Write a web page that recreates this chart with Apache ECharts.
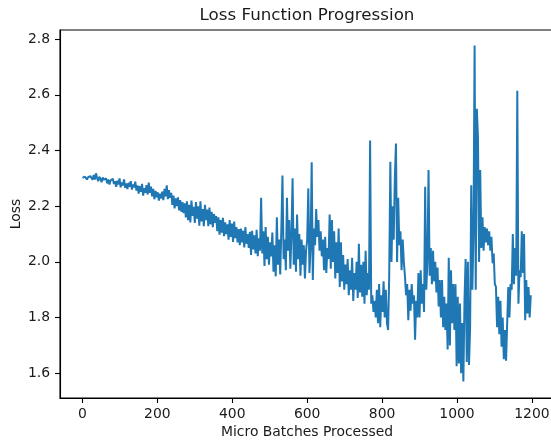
<!DOCTYPE html>
<html><head><meta charset="utf-8">
<script src="https://cdn.jsdelivr.net/npm/echarts@6/dist/echarts.min.js"></script>
<style>html,body{margin:0;padding:0;background:#fff}#c{width:551px;height:441px}</style>
</head><body><div id="c"></div>
<script>
const titleText = "Loss Function Progression";
const xName = "Micro Batches Processed";
const yName = "Loss";
const batchStep = 3;
const xTicks = [0, 200, 400, 600, 800, 1000, 1200];
const yTicks = [1.6, 1.8, 2.0, 2.2, 2.4, 2.6, 2.8];
// loss values, one per 3 micro batches (rows of 30 batches)
const loss0 = [
2.302,2.298,2.306,2.300,2.296,2.304,2.299,2.308,2.301,2.295,
2.312,2.296,2.318,2.302,2.290,2.306,2.298,2.286,2.303,2.295,
2.288,2.300,2.282,2.296,2.278,2.292,2.285,2.299,2.280,2.290,
2.270,2.292,2.278,2.300,2.268,2.285,2.275,2.296,2.266,2.282,
2.262,2.284,2.270,2.290,2.260,2.278,2.268,2.288,2.256,2.275,
2.245,2.272,2.252,2.280,2.238,2.265,2.248,2.276,2.242,2.285,
2.248,2.270,2.235,2.262,2.225,2.255,2.232,2.250,2.220,2.245,
2.228,2.252,2.222,2.262,2.235,2.275,2.225,2.258,2.230,2.248,
2.205,2.238,2.192,2.228,2.200,2.232,2.185,2.222,2.180,2.215,
2.175,2.210,2.160,2.218,2.150,2.205,2.142,2.220,2.165,2.198];
const loss1 = [
2.140,2.215,2.155,2.200,2.130,2.218,2.145,2.190,2.128,2.205,
2.150,2.188,2.128,2.195,2.135,2.180,2.125,2.172,2.140,2.165,
2.110,2.160,2.098,2.150,2.105,2.158,2.092,2.142,2.100,2.135,
2.080,2.150,2.090,2.138,2.072,2.145,2.085,2.125,2.070,2.118,
2.060,2.120,2.070,2.112,2.052,2.125,2.065,2.100,2.050,2.108,
2.025,2.112,2.045,2.095,2.030,2.115,2.020,2.085,2.040,2.230,
2.030,2.110,1.985,2.125,2.010,2.090,1.990,2.070,2.020,2.105,
1.965,2.060,1.948,2.160,1.990,2.080,1.955,2.120,2.310,2.010,
2.080,1.970,2.230,2.040,2.150,1.975,2.100,2.300,1.990,2.120,
1.965,2.170,2.010,2.100,1.950,2.080,1.990,2.060,1.940,2.040];
const loss2 = [
2.080,2.264,1.960,2.050,2.358,1.935,2.120,2.060,2.190,2.090,
2.150,2.040,2.110,2.020,2.080,1.970,2.090,1.960,2.050,2.010,
2.170,1.975,2.150,2.000,2.110,1.940,2.070,1.960,2.120,1.910,
2.070,1.930,2.025,1.900,1.990,1.920,2.010,1.880,1.970,1.900,
2.015,1.860,1.960,1.900,2.000,1.870,2.065,1.890,1.990,1.875,
2.000,1.850,2.040,1.880,1.960,1.900,2.436,1.850,1.880,1.820,
1.860,1.800,1.900,1.780,1.920,1.765,1.880,1.820,1.930,1.800,
1.900,1.780,1.755,1.950,2.360,2.000,2.200,2.080,2.300,2.425,
2.000,2.230,2.060,2.110,1.970,2.080,2.000,1.950,1.880,1.920,
1.790,1.900,1.825,1.920,1.850,1.880,1.720,1.860,1.800,1.960];
const loss3 = [
1.800,1.970,1.850,1.920,1.820,2.270,1.900,2.000,2.330,1.950,
2.050,1.920,2.040,1.930,2.000,1.890,1.980,1.840,1.935,1.800,
1.935,1.765,1.875,1.755,1.850,1.685,2.015,1.700,1.970,1.780,
1.920,1.755,1.920,1.625,1.875,1.635,1.850,1.600,1.780,1.570,
1.860,2.010,1.640,2.000,1.630,1.760,2.275,1.900,2.100,2.777,
1.900,2.550,2.447,2.000,2.330,2.050,2.160,2.040,2.125,2.070,
2.120,2.060,2.110,2.040,2.090,1.995,2.030,1.920,1.910,1.765,
1.875,1.740,1.860,1.695,1.800,1.650,1.755,1.645,1.780,1.910,
1.800,1.920,1.900,2.100,1.920,2.050,1.950,2.615,1.850,1.970,
1.945,2.110,1.960,2.100,1.790,1.935,1.815,1.910,1.800,1.880];
const loss = [].concat(loss0, loss1, loss2, loss3);
const seriesData = loss.map((v, i) => [i * batchStep, v]);

const font = "DejaVu Sans";
const txt = "#1a1a1a";
const chart = echarts.init(document.getElementById('c'), null, {renderer: 'canvas'});
chart.setOption({
  animation: false,
  backgroundColor: '#fff',
  graphic: [{type: 'text', x: 307, y: 16, style: {text: titleText, font: '16.7px "DejaVu Sans"', fill: txt, align: 'center', verticalAlign: 'middle'}}],
  grid: {left: 60, top: 30, width: 494, height: 368, show: true, borderColor: '#000', borderWidth: 1.1, containLabel: false, outerBoundsMode: 'none'},
  xAxis: {
    type: 'value', min: -60, max: 1259,
    name: xName, nameLocation: 'middle', nameGap: 27, nameMoveOverlap: false,
    nameTextStyle: {fontFamily: font, fontSize: 13.9, color: txt},
    axisLine: {show: true, onZero: false, lineStyle: {color: '#000', width: 1.1}},
    axisTick: {show: true, inside: false, length: 5, lineStyle: {color: '#000', width: 1.1}, customValues: xTicks},
    axisLabel: {show: true, margin: 9, fontFamily: font, fontSize: 13.9, color: txt, customValues: xTicks, formatter: v => String(v)},
    splitLine: {show: false}
  },
  yAxis: {
    type: 'value', min: 1.511, max: 2.833,
    name: yName, nameLocation: 'middle', nameGap: 37, nameRotate: 90, nameMoveOverlap: false,
    nameTextStyle: {fontFamily: font, fontSize: 13.9, color: txt},
    axisLine: {show: true, onZero: false, lineStyle: {color: '#000', width: 1.1}},
    axisTick: {show: true, inside: false, length: 5, lineStyle: {color: '#000', width: 1.1}, customValues: yTicks},
    axisLabel: {show: true, margin: 10, fontFamily: font, fontSize: 13.9, color: txt, customValues: yTicks, formatter: v => v.toFixed(1)},
    splitLine: {show: false}
  },
  series: [{type: 'line', data: seriesData, showSymbol: false, symbol: 'none', lineStyle: {color: '#1f77b4', width: 2}, clip: true}]
});
</script></body></html>
